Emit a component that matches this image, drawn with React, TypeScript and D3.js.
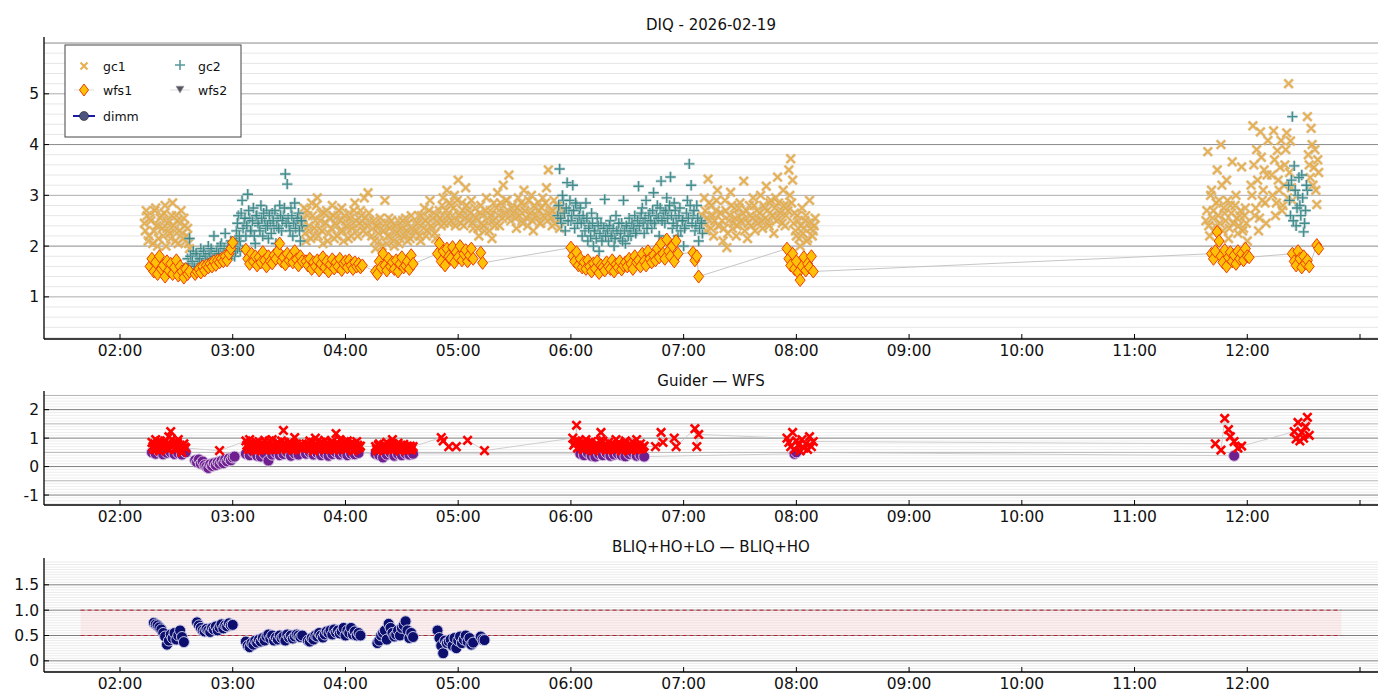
import * as d3 from "d3";

const DAY = "2026-02-19";

// [start "HH:MM(:SS)", values, minutes between samples]
// The ":30" segments are the second reading of each minute in the dense blocks.
type Seg = [string, number[], number?];
type Pt = [string, number];

const gc1Segments: Seg[] = [
  ["02:13", [2.45, 2.7, 2.1, 2.55, 1.7, 2.3, 2.75, 2.0, 2.4, 2.6, 2.2, 2.8, 2.35, 2.5, 2.15, 2.85, 2.3, 2.6, 2.05, 2.45, 2.25, 2.55, 2.1, 2.35, 1.95]],
  ["02:13:30", [2.3, 2.6, 2.2, 2.5, 2.05, 2.7, 2.4, 2.15, 2.55, 2.35, 2.65, 2.0, 2.45, 2.25, 2.6, 2.4, 2.1, 2.5, 2.3, 2.7, 2.15, 2.4, 2.2, 2.05]],
  ["03:37", [2.4, 2.75, 2.1, 2.6, 2.3, 2.85, 2.2, 2.5, 2.95, 2.35, 2.65, 2.05, 2.45, 2.7, 2.25, 2.55, 2.8, 2.15, 2.4, 2.6, 2.3, 2.75, 2.1, 2.5, 2.35, 2.65, 2.2, 2.45, 2.85, 2.3, 2.55, 2.7, 2.4, 2.95, 2.25, 3.05, 2.5]],
  ["03:37:30", [2.55, 2.25, 2.7, 2.4, 2.15, 2.6, 2.35, 2.8, 2.2, 2.5, 2.3, 2.65, 2.45, 2.1, 2.55, 2.35, 2.6, 2.45, 2.2, 2.7, 2.5, 2.3, 2.6, 2.4, 2.15, 2.55, 2.35, 2.7, 2.5, 2.2, 2.45, 2.6, 2.3, 2.55, 2.4, 2.65]],
  ["04:14", [2.2, 2.5, 1.95, 2.35, 2.1, 2.45, 2.3, 2.9, 2.05, 2.55, 2.2, 2.4, 2.0, 2.3, 2.5, 2.15, 2.4, 2.25, 2.55, 2.1, 2.35, 2.6, 2.2, 2.45]],
  ["04:14:30", [2.35, 2.1, 2.4, 2.25, 2.55, 2.0, 2.3, 2.45, 2.2, 2.35, 2.5, 2.1, 2.4, 2.25, 2.05, 2.35, 2.5, 2.2, 2.3, 2.45, 2.15, 2.35, 2.3]],
  ["04:38", [2.3, 2.6, 2.1, 2.45, 2.75, 2.2, 2.55, 2.9, 2.35, 2.65, 2.15, 2.5,
    2.7, 2.4, 2.95, 2.55, 3.1, 2.45, 2.8, 2.6, 3.0, 2.5, 3.3, 2.65, 2.85, 2.4, 3.15, 2.7, 2.55, 2.9, 2.35, 2.75,
    2.5, 2.2, 2.8, 2.6, 2.3, 2.95, 2.45, 2.7, 2.15, 2.85, 2.55, 3.05, 2.4, 2.75, 3.2, 2.6, 2.9, 3.4, 2.5, 2.8,
    2.65, 2.35, 2.95, 2.7, 2.5, 3.1, 2.8, 2.4, 2.6, 3.0, 2.3, 2.75, 2.55, 2.85, 2.45, 2.95, 2.6, 3.15, 3.5, 2.7, 2.4, 2.9, 2.55, 2.8, 2.35, 2.65]],
  ["04:38:30", [2.45, 2.2, 2.6, 2.35, 2.5, 2.3, 2.7, 2.4, 2.55, 2.25, 2.6, 2.45,
    2.55, 2.8, 2.45, 2.7, 2.6, 2.85, 2.5, 2.75, 2.4, 2.9, 2.6, 2.45, 2.7, 2.55, 2.8, 2.5, 2.65, 2.45, 2.6, 2.55,
    2.35, 2.65, 2.45, 2.4, 2.7, 2.55, 2.3, 2.6, 2.5, 2.4, 2.75, 2.6, 2.85, 2.55, 2.65, 2.9, 2.7, 2.6, 2.75, 2.65,
    2.55, 2.75, 2.6, 2.85, 2.45, 2.7, 2.55, 2.9, 2.65, 2.5, 2.8, 2.6, 2.7, 2.45, 2.75, 2.6, 2.85, 2.5, 2.65, 2.55, 2.7, 2.45, 2.6, 2.5, 2.75]],
  ["07:10", [2.6, 2.95, 2.3, 3.32, 2.5, 2.8, 2.2, 2.7, 3.1, 2.4,
    2.65, 2.1, 2.9, 1.97, 2.5, 3.06, 2.35, 2.75, 2.2, 2.6, 2.85, 2.45, 3.28, 2.55, 2.15, 2.8, 2.4, 2.95, 2.3, 2.7,
    2.5, 3.0, 2.35, 2.75, 3.18, 2.45, 2.85, 2.6, 2.25, 2.95, 3.36, 2.55, 2.7, 3.1, 2.4,
    2.8, 3.5, 3.72, 3.3, 2.65, 2.2, 2.5, 2.0, 2.75, 2.35, 2.6, 2.15, 2.9, 2.45, 2.3, 2.55]],
  ["07:10:30", [2.45, 2.7, 2.55, 2.85, 2.35, 2.6, 2.5, 2.9, 2.4, 2.65,
    2.5, 2.35, 2.7, 2.25, 2.6, 2.8, 2.45, 2.55, 2.4, 2.75, 2.5, 2.65, 2.3, 2.7, 2.45, 2.6, 2.55, 2.8, 2.5, 2.45,
    2.65, 2.5, 2.8, 2.55, 2.7, 2.4, 2.9, 2.6, 2.75, 2.5, 2.85, 2.65, 2.45, 2.8, 2.6,
    2.7, 3.0, 2.85, 2.45, 2.3, 2.6, 2.15, 2.4, 2.25, 2.5, 2.1, 2.45, 2.35, 2.2, 2.4]],
  ["11:38", [2.5, 3.86, 2.2, 3.1, 2.7, 2.4, 3.5, 2.9, 4.0, 2.3, 2.65, 3.3, 2.15, 2.8, 3.66, 2.45, 3.0, 2.25, 2.6, 3.56, 2.35, 2.75, 2.1]],
  ["11:38:30", [2.7, 2.4, 3.0, 2.55, 2.3, 2.85, 2.6, 2.45, 3.2, 2.75, 2.5, 2.9, 2.35, 2.65, 2.45, 2.8, 2.55, 2.4, 2.7, 2.3, 2.6, 2.45]],
  ["12:02", [3.2, 4.37, 2.6, 3.9, 2.3, 4.25, 2.9, 3.5, 2.45, 4.08]],
  ["12:02:30", [3.0, 3.6, 2.75, 3.3, 2.55, 3.75, 3.1, 2.85, 3.4]],
  ["12:13", [3.4, 4.27, 2.6, 3.88, 3.1, 4.08, 2.8, 3.6, 4.23, 5.2, 4.07, 2.9]],
  ["12:13:30", [3.0, 3.7, 2.85, 3.3, 3.55, 2.7, 3.2, 3.9, 2.95, 3.45, 3.15]],
  ["12:32", [4.55, 3.6, 4.32, 3.2, 3.9, 2.82, 3.45]],
  ["12:32:30", [3.8, 3.35, 4.0, 3.55, 3.1, 3.7]],
];

const gc2Segments: Seg[] = [
  ["02:36", [1.75, 2.15, 1.6, 1.9, 1.55, 1.8, 1.65, 1.95, 1.7, 1.85, 1.6, 2.0, 1.75, 1.9, 2.2, 1.8, 1.95, 1.7, 2.05, 1.85, 2.25, 1.9, 1.75, 2.1, 1.95, 1.8, 2.15, 2.0, 1.9]],
  ["02:36:30", [1.65, 1.8, 1.7, 1.6, 1.85, 1.7, 1.75, 1.65, 1.9, 1.8, 1.7, 1.85, 1.95, 1.75, 1.8, 1.9, 1.85, 2.0, 1.8, 1.95, 1.85, 2.0, 1.9, 1.85, 2.05, 1.9, 1.95, 2.0]],
  ["03:02", [2.3, 2.6, 2.1, 2.9, 2.45, 2.2, 3.02, 2.55, 2.3, 2.75, 2.05, 2.6, 2.4, 2.8, 2.2, 2.5, 2.7, 2.15, 2.45, 2.65, 2.35, 2.05, 2.55, 2.8, 2.3, 2.6, 3.42, 3.22, 2.4, 2.75, 2.2, 2.85, 2.5, 2.65, 2.1, 2.4]],
  ["03:02:30", [2.45, 2.2, 2.65, 2.35, 2.55, 2.4, 2.7, 2.3, 2.5, 2.2, 2.6, 2.45, 2.3, 2.55, 2.65, 2.35, 2.4, 2.6, 2.25, 2.5, 2.7, 2.4, 2.35, 2.6, 2.5, 2.75, 2.45, 2.55, 2.3, 2.6, 2.45, 2.35, 2.55, 2.3, 2.5]],
  ["05:53", [2.6, 3.52, 2.45, 2.9, 2.3, 3.25, 2.7, 2.5, 3.2, 2.35, 2.8, 2.55,
    2.75, 2.2, 2.5, 2.85, 2.1, 2.4, 2.65, 2.0, 2.3, 2.55, 1.9, 2.45, 2.2, 2.92, 2.35,
    2.1, 2.5, 2.25, 2.0, 2.6, 2.3, 2.15, 2.45, 2.9, 2.05, 2.35, 2.55, 2.2, 2.4, 2.6,
    2.3, 3.18, 2.55, 2.75, 2.25, 2.9, 2.45, 2.65, 2.35, 3.05, 2.5, 2.8, 2.2, 3.28, 2.6,
    2.45, 2.95, 2.7, 3.36, 2.35, 2.85, 2.55, 2.2, 2.75, 2.5, 2.0, 2.4, 2.9, 3.62, 3.2, 2.6, 2.3, 2.8, 2.1, 2.5, 2.25]],
  ["05:53:30", [2.8, 2.55, 3.0, 2.65, 2.75, 2.5, 2.9, 2.6, 2.7, 2.85, 2.45, 2.6,
    2.45, 2.6, 2.3, 2.55, 2.35, 2.2, 2.45, 2.3, 2.15, 2.4, 2.25, 2.1, 2.35, 2.2, 2.3,
    2.4, 2.2, 2.35, 2.15, 2.3, 2.45, 2.25, 2.1, 2.3, 2.4, 2.2, 2.3, 2.45, 2.35, 2.25,
    2.5, 2.4, 2.65, 2.45, 2.55, 2.35, 2.6, 2.5, 2.7, 2.45, 2.6, 2.55, 2.75, 2.5, 2.65,
    2.7, 2.55, 2.8, 2.6, 2.45, 2.7, 2.4, 2.6, 2.3, 2.5, 2.35, 2.65, 2.55, 2.8, 2.45, 2.7, 2.4, 2.55, 2.35, 2.45]],
  ["12:22", [3.2, 2.6, 4.55, 3.58, 2.4, 3.0, 2.8, 3.4, 2.28, 2.7, 3.1]],
  ["12:22:30", [2.9, 3.3, 2.5, 3.1, 2.75, 3.35, 2.6, 2.95, 2.45, 3.2]],
];

const wfs1Segments: Seg[] = [
  ["02:16", [1.6, 1.75, 1.5, 1.68, 1.45, 1.8, 1.55, 1.62, 1.4, 1.7, 1.52, 1.65, 1.45, 1.58, 1.72, 1.42, 1.6, 1.5, 1.38, 1.55, 1.45, 1.5]],
  ["02:40", [1.45, 1.5, 1.55, 1.48, 1.6, 1.52, 1.62, 1.58, 1.65, 1.6, 1.7, 1.63, 1.72, 1.68, 1.75, 1.7, 1.8, 1.72, 1.85, 1.95, 2.07]],
  ["03:07", [1.93, 1.75, 1.65, 1.85, 1.7, 1.8, 1.62, 1.78, 1.68, 1.88, 1.72, 1.6, 1.8, 1.7, 1.66, 1.82, 1.75, 1.9, 2.05, 1.7, 1.78, 1.64, 1.85, 1.72, 1.8, 1.68, 1.9, 1.74, 1.62, 1.8, 1.7]],
  ["03:39", [1.7, 1.62, 1.75, 1.55, 1.68, 1.6, 1.72, 1.52, 1.65, 1.78, 1.58, 1.7, 1.5, 1.64, 1.74, 1.56, 1.68, 1.6, 1.75, 1.53, 1.66, 1.7, 1.58, 1.72, 1.62, 1.55, 1.68, 1.6, 1.65, 1.58, 1.62]],
  ["04:16", [1.5, 1.45, 1.7, 1.58, 1.85, 1.62, 1.52, 1.75, 1.6, 1.68, 1.55, 1.72, 1.5, 1.65, 1.78, 1.58, 1.62, 1.7, 1.55, 1.82, 1.65]],
  ["04:49", [1.85, 2.05, 1.7, 1.9, 1.62, 1.95, 1.8, 1.75, 1.98, 1.68, 1.88, 1.78, 2.0, 1.72, 1.85, 1.92, 1.7, 1.82, 1.95, 1.75]],
  ["05:12", [1.87, 1.67]],
  ["06:00", [1.97, 1.8, 1.7, 1.88, 1.62, 1.75, 1.58, 1.68, 1.55, 1.72,
    1.6, 1.5, 1.66, 1.56, 1.7, 1.47, 1.62, 1.58, 1.52, 1.68, 1.6, 1.55, 1.72, 1.5, 1.64, 1.58, 1.7, 1.54, 1.62, 1.68,
    1.6, 1.75, 1.65, 1.55, 1.8, 1.68, 1.72, 1.6, 1.85, 1.7, 1.62, 1.9, 1.75, 1.68, 1.82, 1.72, 1.95, 1.78, 2.05, 1.85,
    1.75, 2.13, 1.9, 1.8, 2.0, 1.7, 2.1, 1.85]],
  ["07:05", [1.87, 1.72, 1.8, 1.4]],
  ["07:55", [1.95, 1.75, 1.62, 1.85, 1.55, 1.7, 1.48, 1.33, 1.6, 1.78, 1.52, 1.65, 1.58, 1.8, 1.5]],
  ["11:41", [1.85, 1.75, 1.9, 2.28, 2.1, 1.8, 1.68, 1.92, 1.6, 1.78, 1.88, 1.7, 1.82, 1.65, 1.9, 1.75, 1.85, 1.72, 1.95, 1.8, 1.78]],
  ["12:24", [1.85, 1.7, 1.62, 1.9, 1.75, 1.58, 1.8, 1.66, 1.72, 1.6]],
  ["12:37", [2.02, 1.95]],
];

// Guider — WFS
const gcMinusWfsSegments: Seg[] = [
  ["02:17", [0.85, 0.6, 0.95, 0.7, 0.55, 0.8, 0.65, 0.9, 0.75, 1.05, 1.23, 0.7, 0.85, 0.6, 0.95, 0.75, 0.5, 0.8, 0.65]],
  ["02:17:30", [0.7, 0.8, 0.6, 0.75, 0.9, 0.65, 0.85, 0.7, 0.6, 0.8, 0.95, 0.75, 0.65, 0.85, 0.7, 0.6, 0.75, 0.68]],
  ["03:07", [0.9, 0.7, 0.95, 0.6, 0.8, 0.55, 0.75, 0.88, 0.62, 0.7, 0.92, 0.58, 0.8, 0.65, 0.95, 0.72, 0.6, 0.85, 0.68, 0.9, 1.27, 0.75, 0.62, 0.85, 0.7, 0.58, 1.02, 0.8, 0.65, 0.75]],
  ["03:07:30", [0.75, 0.6, 0.8, 0.7, 0.65, 0.85, 0.6, 0.72, 0.8, 0.6, 0.75, 0.68, 0.9, 0.6, 0.78, 0.65, 0.82, 0.7, 0.6, 0.75, 0.85, 0.6, 0.72, 0.65, 0.8, 0.7, 0.6, 0.72, 0.68]],
  ["03:39", [0.8, 0.65, 0.9, 0.7, 0.55, 1.0, 0.75, 0.6, 0.85, 0.7, 0.92, 0.62, 0.78, 0.68, 0.88, 0.58, 1.16, 0.72, 0.95, 0.65, 0.8, 0.6, 0.9, 0.7, 0.82, 0.55, 0.75, 0.88, 0.65, 0.72]],
  ["03:39:30", [0.7, 0.8, 0.62, 0.85, 0.72, 0.65, 0.9, 0.7, 0.78, 0.6, 0.8, 0.7, 0.62, 0.85, 0.75, 0.68, 0.82, 0.6, 0.75, 0.7, 0.88, 0.62, 0.78, 0.65, 0.72, 0.8, 0.6, 0.75, 0.68]],
  ["04:16", [0.7, 0.55, 0.8, 0.62, 0.72, 0.58, 0.85, 0.65, 0.75, 0.95, 0.6, 0.7, 0.82, 0.55, 0.68, 0.78, 0.6, 0.72, 0.65, 0.58, 0.7]],
  ["04:16:30", [0.62, 0.75, 0.68, 0.6, 0.78, 0.7, 0.62, 0.72, 0.65, 0.8, 0.68, 0.6, 0.7, 0.75, 0.62, 0.7, 0.66, 0.6, 0.72, 0.65]],
  ["06:01", [1.0, 0.8, 1.45, 0.9, 0.7, 0.85, 0.6, 0.95, 0.75, 0.65, 0.88, 0.55, 0.72, 0.8, 0.62, 1.2, 0.9, 0.7, 0.58, 0.85, 0.65, 0.78, 0.6, 0.95, 0.7, 0.82, 0.55, 0.68, 0.9, 0.62, 0.75, 0.58, 0.85, 0.7, 0.95, 0.6, 0.8, 0.65, 0.72]],
  ["06:01:30", [0.75, 0.9, 0.65, 0.8, 0.7, 0.6, 0.78, 0.68, 0.85, 0.6, 0.72, 0.65, 0.8, 0.7, 0.9, 0.62, 0.75, 0.65, 0.7, 0.6, 0.8, 0.68, 0.75, 0.62, 0.85, 0.7, 0.6, 0.78, 0.66, 0.72, 0.8, 0.62, 0.7, 0.6, 0.75, 0.68, 0.62, 0.7]],
  ["07:55", [1.0, 0.85, 0.7, 1.2, 0.6, 0.9, 0.75, 0.55, 0.95, 0.65, 0.8, 0.6, 1.05, 0.7, 0.88]],
];
const gcMinusWfsPoints: Pt[] = [
  ["02:53", 0.56], ["04:51", 1.02], ["04:52", 0.9], ["04:55", 0.7], ["04:59", 0.7], ["05:05", 0.92], ["05:14", 0.56],
  ["06:45", 0.7], ["06:48", 1.2], ["06:49", 0.85], ["06:55", 1.0], ["06:56", 0.7], ["07:06", 1.33], ["07:07", 0.7], ["07:08", 1.13],
  ["11:43", 0.8], ["11:46", 0.58], ["11:48", 1.69], ["11:50", 1.3], ["11:51", 1.05], ["11:53", 0.88], ["11:55", 0.65], ["11:57", 0.72],
  ["12:25", 1.23], ["12:26", 0.97], ["12:27", 1.55], ["12:28", 0.9], ["12:29", 1.2], ["12:30", 1.0], ["12:31", 1.4], ["12:32", 1.73], ["12:33", 1.1],
];
const gc2MinusWfsSegments: Seg[] = [
  ["02:17", [0.5, 0.45, 0.52, 0.43, 0.48, 0.5, 0.44, 0.47, 0.42, 0.5], 2],
  ["02:40", [0.22, 0.15, 0.25, 0.1, 0.18, 0.05, 0.0, -0.05, 0.08, 0.02, 0.12, 0.05, 0.15, 0.1, 0.2, 0.12, 0.25, 0.18, 0.28, 0.22, 0.32, 0.35]],
  ["03:07", [0.45, 0.4, 0.5, 0.38, 0.35, 0.45, 0.21, 0.42, 0.48, 0.4, 0.44, 0.5, 0.38, 0.46, 0.42], 2],
  ["03:39", [0.45, 0.5, 0.42, 0.48, 0.4, 0.46, 0.38, 0.44, 0.5, 0.42, 0.47, 0.4, 0.45, 0.43, 0.48], 2],
  ["04:16", [0.45, 0.4, 0.32, 0.42, 0.48, 0.38, 0.44, 0.4, 0.46, 0.42, 0.45], 2],
  ["06:05", [0.45, 0.4, 0.48, 0.38, 0.35, 0.44, 0.4, 0.47, 0.38, 0.42, 0.45, 0.4, 0.36, 0.44, 0.48, 0.38, 0.4, 0.35], 2],
  ["07:59", [0.45, 0.5]],
  ["11:53", [0.38]],
];

// BLIQ+HO+LO — BLIQ+HO (dimm)
const dimmSegments: Seg[] = [
  ["02:18", [0.75, 0.72, 0.7, 0.66, 0.62, 0.55, 0.48, 0.32, 0.4, 0.52, 0.45, 0.55, 0.42, 0.5, 0.6, 0.47, 0.37]],
  ["02:41", [0.76, 0.7, 0.65, 0.6, 0.58, 0.63, 0.6, 0.57, 0.65, 0.62, 0.68, 0.6, 0.66, 0.72, 0.64, 0.7, 0.68, 0.74, 0.7, 0.71]],
  ["03:07", [0.38, 0.3, 0.27, 0.35, 0.32, 0.4, 0.36, 0.42, 0.38, 0.45, 0.4, 0.48, 0.52, 0.44, 0.5, 0.4, 0.46, 0.42, 0.5, 0.45, 0.48, 0.4, 0.52, 0.46, 0.5, 0.44, 0.48, 0.52, 0.5, 0.47, 0.5]],
  ["03:40", [0.4, 0.38, 0.45, 0.42, 0.5, 0.48, 0.55, 0.5, 0.46, 0.52, 0.58, 0.55, 0.6, 0.52, 0.62, 0.56, 0.6, 0.54, 0.58, 0.65, 0.5, 0.6, 0.55, 0.65, 0.52, 0.58, 0.5, 0.55, 0.5]],
  ["04:17", [0.35, 0.4, 0.5, 0.55, 0.6, 0.42, 0.73, 0.65, 0.55, 0.48, 0.52, 0.6, 0.5, 0.65, 0.7, 0.78, 0.6, 0.45, 0.55, 0.47]],
  ["04:49", [0.6, 0.45, 0.3, 0.15, 0.4, 0.35, 0.38, 0.42, 0.3, 0.45, 0.25, 0.4, 0.48, 0.35, 0.42, 0.5, 0.38, 0.45, 0.32, 0.36]],
  ["05:12", [0.48, 0.42, 0.41]],
];

const bandStart = "01:39";
const bandEnd = "12:50";
const bandLow = 0.5;
const bandHigh = 1.0;

const topTicks = [1, 2, 3, 4, 5];
const midTicks = [-1, 0, 1, 2];
const lowTicks = [0, 0.5, 1.0, 1.5];

// ---------------------------------------------------------------------------

const toDate = (hm: string) => new Date(`${DAY}T${hm.length === 5 ? hm + ":00" : hm}Z`);
type D = { t: Date; v: number };
const expand = (segs: Seg[]): D[] =>
  segs.flatMap(([start, vals, step = 1]) =>
    vals.map((v, i) => ({ t: new Date(toDate(start).getTime() + i * step * 60000), v }))
  );
const fromPts = (pts: Pt[]): D[] => pts.map(([hm, v]) => ({ t: toDate(hm), v }));
const byTime = (a: D, b: D) => a.t.getTime() - b.t.getTime();

const gc1 = expand(gc1Segments);
const gc2 = expand(gc2Segments);
const wfs1 = expand(wfs1Segments);
const diffRed = [...expand(gcMinusWfsSegments), ...fromPts(gcMinusWfsPoints)].sort(byTime);
const diffPurple = expand(gc2MinusWfsSegments);
const dimm = expand(dimmSegments);

const LEFT = 44;
const RIGHT = 1378;
const FONT = "DejaVu Sans, sans-serif";

const x = d3.scaleUtc().domain([toDate("02:00"), toDate("13:00")]).range([120, 1360]);
const hourTicks = x.ticks(d3.utcHour.every(1)!);
const fmtHour = d3.utcFormat("%H:%M");

type PanelCfg = {
  title: string;
  titleY: number;
  top: number;
  bottom: number;
  domain: [number, number];
  minor: number;
  mid: number | null;
  major: number;
  colors: [string, string, string];
  ticks: number[];
  fmt: (v: number) => string;
};

const panels: PanelCfg[] = [
  { title: "DIQ - 2026-02-19", titleY: 30, top: 40, bottom: 339, domain: [0.17, 6.06], minor: 0.2, mid: 1, major: 2,
    colors: ["#e6e6e6", "#acacac", "#8a8a8a"], ticks: topTicks, fmt: (v) => String(v) },
  { title: "Guider — WFS", titleY: 386, top: 394, bottom: 505, domain: [-1.35, 2.55], minor: 0.1, mid: 0.5, major: 1,
    colors: ["#eeeeee", "#b4b4b4", "#7e7e7e"], ticks: midTicks, fmt: (v) => String(v) },
  { title: "BLIQ+HO+LO — BLIQ+HO", titleY: 552, top: 561, bottom: 672, domain: [-0.22, 1.97], minor: 0.05, mid: null, major: 0.5,
    colors: ["#ebebeb", "#b4b4b4", "#7e7e7e"], ticks: lowTicks, fmt: (v) => (v === 0 ? "0" : v.toFixed(1)) },
];

const yOf = (p: PanelCfg) => d3.scaleLinear().domain(p.domain).range([p.bottom, p.top]);

const near = (v: number, step: number) => Math.abs(v / step - Math.round(v / step)) < 1e-6;

const xPath = (s: number) => `M${-s},${-s}L${s},${s}M${-s},${s}L${s},${-s}`;
const plusPath = (s: number) => `M${-s},0H${s}M0,${-s}V${s}`;
const diamondPath = (w: number, h: number) => `M0,${-h}L${w},0L0,${h}L${-w},0Z`;
const triPath = (s: number) => `M${-s},${-s * 0.7}L${s},${-s * 0.7}L0,${s}Z`;

function Frame({ p }: { p: PanelCfg }) {
  const y = yOf(p);
  const lines = d3.range(Math.ceil(p.domain[0] / p.minor), Math.floor(p.domain[1] / p.minor) + 1).map((k) => +(k * p.minor).toFixed(4));
  return (
    <g>
      {lines.map((v) => {
        const c = near(v, p.major) ? p.colors[2] : p.mid && near(v, p.mid) ? p.colors[1] : p.colors[0];
        return <line key={v} x1={LEFT} x2={RIGHT} y1={y(v)} y2={y(v)} stroke={c} strokeWidth={1} />;
      })}
      <text x={(LEFT + RIGHT) / 2} y={p.titleY} textAnchor="middle" fontSize={15} fontFamily={FONT} fill="#111">
        {p.title}
      </text>
    </g>
  );
}

function Axes({ p }: { p: PanelCfg }) {
  const y = yOf(p);
  return (
    <g fontFamily={FONT} fontSize={15.5} fill="#111">
      <line x1={LEFT} x2={LEFT} y1={p.top - 3} y2={p.bottom} stroke="#000" strokeWidth={1.3} />
      <line x1={LEFT} x2={RIGHT} y1={p.bottom} y2={p.bottom} stroke="#000" strokeWidth={1.3} />
      {hourTicks.map((t, i) => (
        <g key={i}>
          <line x1={x(t)} x2={x(t)} y1={p.bottom} y2={p.bottom - 5} stroke="#000" />
          {i < hourTicks.length - 1 && (
            <text x={x(t)} y={p.bottom + 17} textAnchor="middle">{fmtHour(t)}</text>
          )}
        </g>
      ))}
      {p.ticks.map((v) => (
        <g key={v}>
          <line x1={LEFT} x2={LEFT + 5} y1={y(v)} y2={y(v)} stroke="#000" />
          <text x={39} y={y(v) + 5.5} textAnchor="end">{p.fmt(v)}</text>
        </g>
      ))}
    </g>
  );
}

const linePath = (data: D[], y: d3.ScaleLinear<number, number>) =>
  d3.line<D>().x((d) => x(d.t)).y((d) => y(d.v))(data) ?? "";

export default function App() {
  const [pTop, pMid, pLow] = panels;
  const yTop = yOf(pTop);
  const yMid = yOf(pMid);
  const yLow = yOf(pLow);

  return (
    <svg width={1400} height={700} style={{ position: "absolute", left: 0, top: 0, background: "#fff" }}>
      <rect width={1400} height={700} fill="#fff" />
      {panels.map((p, i) => <Frame key={i} p={p} />)}

      {/* DIQ panel */}
      <g>
        {gc1.map((d, i) => (
          <g key={i} transform={`translate(${x(d.t)},${yTop(d.v)})`}>
            <path d={xPath(4.3)} stroke="#d6c6ae" strokeWidth={3.4} opacity={0.6} />
            <path d={xPath(4.3)} stroke="#e8a838" strokeWidth={1.8} opacity={0.85} />
          </g>
        ))}
        {gc2.map((d, i) => (
          <g key={i} transform={`translate(${x(d.t)},${yTop(d.v)})`}>
            <path d={plusPath(5.2)} stroke="#b2cbcc" strokeWidth={3.2} opacity={0.6} />
            <path d={plusPath(5.2)} stroke="#2a7f80" strokeWidth={1.4} opacity={0.85} />
          </g>
        ))}
        <path d={linePath(wfs1, yTop)} fill="none" stroke="#b8b8b8" strokeWidth={0.8} />
        {wfs1.map((d, i) => (
          <path key={i} d={diamondPath(5, 6.5)} transform={`translate(${x(d.t)},${yTop(d.v)})`}
            fill="#ffc107" stroke="#f03c00" strokeWidth={1} />
        ))}
      </g>

      {/* legend */}
      <g fontFamily={FONT} fontSize={12.5} fill="#111">
        <rect x={65} y={45} width={176} height={92} fill="#fff" stroke="#444" strokeWidth={1} />
        <path d={xPath(3.5)} transform="translate(84,66)" stroke="#e8b050" strokeWidth={2} />
        <text x={103} y={71}>gc1</text>
        <path d={plusPath(5)} transform="translate(180,65)" stroke="#5a9a9c" strokeWidth={1.6} />
        <text x={198} y={71}>gc2</text>
        <line x1={74} x2={94} y1={90} y2={90} stroke="#ddd" />
        <path d={diamondPath(4.5, 6)} transform="translate(84,90)" fill="#ffc107" stroke="#f03c00" />
        <text x={103} y={95}>wfs1</text>
        <line x1={170} x2={190} y1={90} y2={90} stroke="#ddd" />
        <path d={triPath(4)} transform="translate(180,89)" fill="#555566" stroke="#999" strokeWidth={0.6} />
        <text x={198} y={95}>wfs2</text>
        <line x1={73} x2={95} y1={116} y2={116} stroke="#1a1aa8" strokeWidth={2} />
        <circle cx={84} cy={116} r={4.5} fill="#4b5580" stroke="#222" strokeWidth={0.6} />
        <text x={103} y={121}>dimm</text>
      </g>

      {/* Guider — WFS panel */}
      <g>
        <path d={linePath(diffPurple, yMid)} fill="none" stroke="#c4c4c4" strokeWidth={0.8} />
        <path d={linePath(diffRed, yMid)} fill="none" stroke="#c4c4c4" strokeWidth={0.8} />
        {diffPurple.map((d, i) => (
          <circle key={i} cx={x(d.t)} cy={yMid(d.v)} r={5.5} fill="#6f1f8f" stroke="#d4c0e0" strokeWidth={1} />
        ))}
        {diffRed.map((d, i) => (
          <path key={i} d={xPath(4.2)} transform={`translate(${x(d.t)},${yMid(d.v)})`} stroke="#ff0000" strokeWidth={2.6} />
        ))}
      </g>

      {/* dimm panel */}
      <g>
        <rect x={x(toDate(bandStart))} width={x(toDate(bandEnd)) - x(toDate(bandStart))}
          y={yLow(bandHigh)} height={yLow(bandLow) - yLow(bandHigh)} fill="#f8d0d0" opacity={0.35} />
        {[bandLow, bandHigh].map((v) => (
          <line key={v} x1={x(toDate(bandStart))} x2={x(toDate(bandEnd))} y1={yLow(v)} y2={yLow(v)}
            stroke="#b02030" strokeWidth={1} strokeDasharray="4,3" />
        ))}
        {dimm.map((d, i) => (
          <circle key={i} cx={x(d.t)} cy={yLow(d.v)} r={5.5} fill="#0c0f6e" stroke="#c8c8e8" strokeWidth={1} />
        ))}
      </g>

      {panels.map((p, i) => <Axes key={i} p={p} />)}
    </svg>
  );
}
